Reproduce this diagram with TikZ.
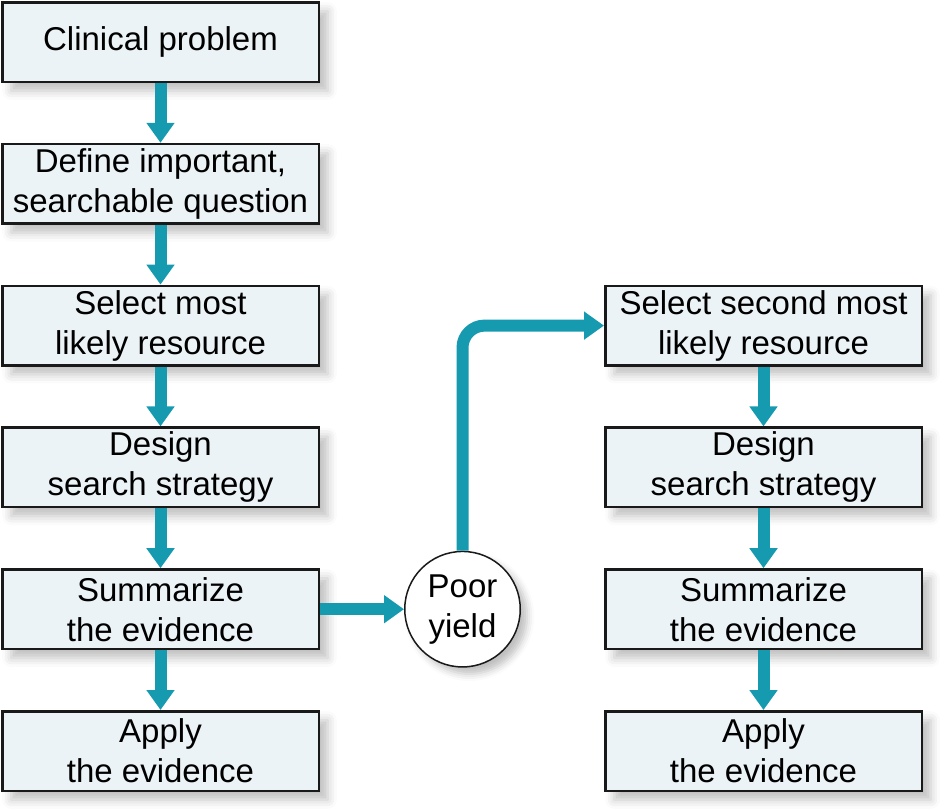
\documentclass[tikz,border=0pt]{standalone}
\usepackage{fontspec}
\setmainfont{Liberation Sans}
\usetikzlibrary{positioning,arrows.meta,shadows.blur}
\definecolor{flowteal}{RGB}{22,154,175}
\definecolor{boxfill}{RGB}{235,243,246}

\begin{document}
\begin{tikzpicture}[
		stepnode/.style={rectangle, draw=black!90, line width=2.5pt, fill=boxfill,
			minimum width=316.5pt, minimum height=79.5pt, inner sep=0pt, align=center,
			font=\fontsize{33}{40}\selectfont,
			blur shadow={shadow xshift=9pt, shadow yshift=-9pt, shadow blur radius=9pt, shadow opacity=25}},
		yieldnode/.style={circle, draw=black!90, line width=1.5pt, fill=white,
			minimum size=115.5pt, inner sep=0pt, align=center,
			font=\fontsize{33}{40}\selectfont,
			blur shadow={shadow xshift=7pt, shadow yshift=-7pt, shadow blur radius=7pt, shadow opacity=25}},
		flow/.style={flowteal, line width=12pt, -{Triangle[width=27pt,length=20pt]}},
		node distance=59.8pt
		]
		\useasboundingbox (0,0) rectangle (943pt,-811pt);
		% first resource
		\node[stepnode] at (160.5pt,-42pt) (L1){Clinical problem};
		\node[stepnode, below = of L1](L2){Define important,\\searchable question};
		\node[stepnode, below = of L2](L3){Select most\\likely resource};
		\node[stepnode, below = of L3](L4){Design\\search strategy};
		\node[stepnode, below = of L4](L5){Summarize\\the evidence};
		\node[stepnode, below = of L5](L6){Apply\\the evidence};
		\draw[flow] (L1) --(L2);
		\draw[flow] (L2) --(L3);
		\draw[flow] (L3) --(L4);
		\draw[flow] (L4) --(L5);
		\draw[flow] (L5) --(L6);
		% poor yield
		\node[yieldnode, right = 84pt of L5](Y){Poor\\yield};
		\draw[flow] (L5) --(Y);
		% second resource
		\node[stepnode, right = 284pt of L3](R3){Select second most\\likely resource};
		\node[stepnode, below = of R3](R4){Design\\search strategy};
		\node[stepnode, below = of R4](R5){Summarize\\the evidence};
		\node[stepnode, below = of R5](R6){Apply\\the evidence};
		\draw[flow, rounded corners=22pt] (Y.north) |- (R3.west);
		\draw[flow] (R3) --(R4);
		\draw[flow] (R4) --(R5);
		\draw[flow] (R5) --(R6);
	\end{tikzpicture}
\end{document}
